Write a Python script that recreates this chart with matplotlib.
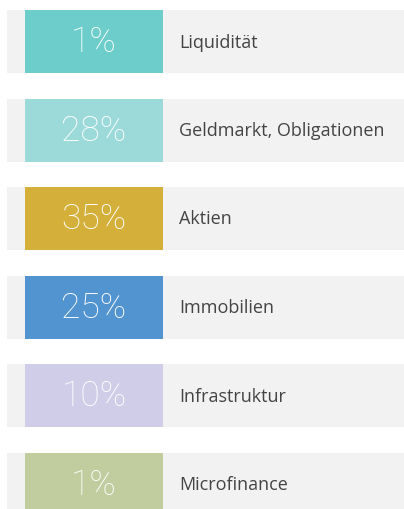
import matplotlib
matplotlib.use("Agg")
import matplotlib.pyplot as plt

categories = ["Liquidität", "Geldmarkt, Obligationen", "Aktien",
              "Immobilien", "Infrastruktur", "Microfinance"]
shares = [1, 28, 35, 25, 10, 1]
colors = ["#6ccdcb", "#9cdad9", "#d4b03a", "#5294d0", "#cfcde8", "#c1cc9f"]

fig = plt.figure(figsize=(4.04, 5.09), dpi=100)
ax = fig.add_axes([0, 0, 1, 1])
ax.set_xlim(0, 404)
ax.set_ylim(509, 0)
ax.axis("off")

row_h = 63
for i, (cat, val, col) in enumerate(zip(categories, shares, colors)):
    top = 10 + i * 88.5
    yc = top + row_h / 2
    ax.barh(yc, 404 - 7, left=7, height=row_h, color="#f2f2f2", lw=0)
    ax.barh(yc, 138, left=25, height=row_h, color=col, lw=0)
    ax.text(94, yc + 1, f"{val}%", color="white", fontsize=25.5,
            family="Roboto", weight="light", ha="center", va="center")
    ax.text(179, yc + 1, cat, color="#444444", fontsize=13,
            family="Open Sans", ha="left", va="center")

fig.savefig("out.png", dpi=100)
